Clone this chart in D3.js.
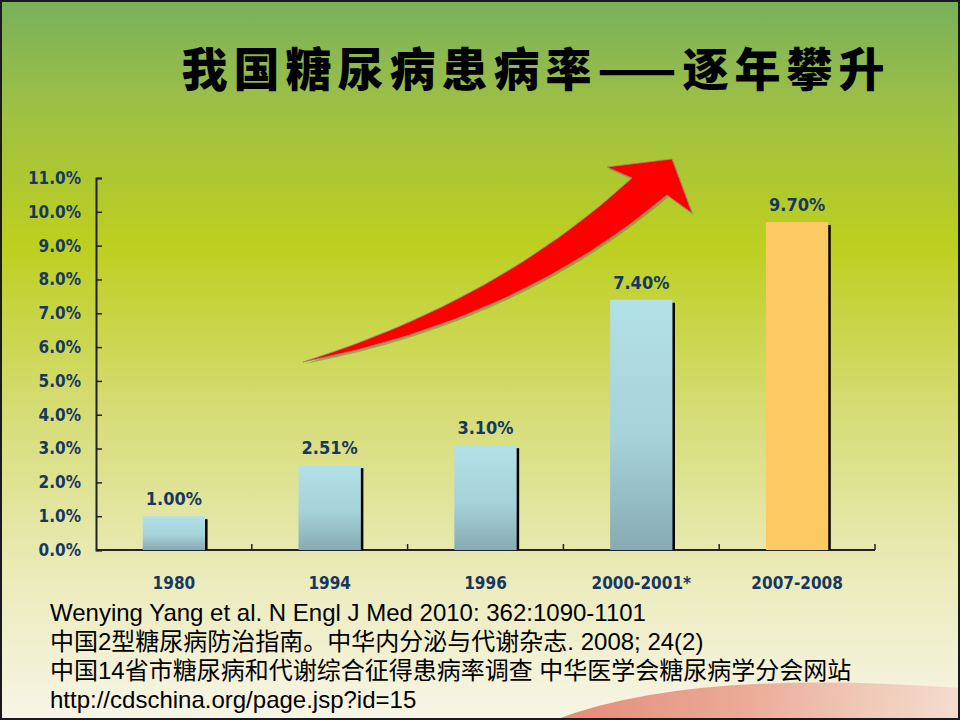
<!DOCTYPE html>
<html>
<head>
<meta charset="utf-8">
<script src="https://cdn.jsdelivr.net/npm/d3@7"></script>
<style>
  html, body { margin: 0; padding: 0; background: #fff; }
  svg { display: block; }
</style>
</head>
<body>
<svg id="chart"></svg>
<script>
const width = 960;
const height = 720;

// data
const categories = ["1980", "1994", "1996", "2000-2001*", "2007-2008"];
const prevalence = [0.0100, 0.0251, 0.0310, 0.0740, 0.0970];
const valueLabels = ["1.00%", "2.51%", "3.10%", "7.40%", "9.70%"];
const yTicks = [0, 0.01, 0.02, 0.03, 0.04, 0.05, 0.06, 0.07, 0.08, 0.09, 0.10, 0.11];
const titleText = "我国糖尿病患病率——逐年攀升";
const references = [
  "Wenying Yang et al. N Engl J Med 2010: 362:1090-1101",
  "中国2型糖尿病防治指南。中华内分泌与代谢杂志. 2008; 24(2)",
  "中国14省市糖尿病和代谢综合征得患病率调查 中华医学会糖尿病学分会网站",
  "http://cdschina.org/page.jsp?id=15"
];

const svg = d3.select("#chart")
  .attr("width", width)
  .attr("height", height);

const defs = svg.append("defs");

// slide background: green at top, yellow-green in middle, cream at bottom
const bg = defs.append("linearGradient")
  .attr("id", "bg").attr("x1", 0).attr("y1", 0).attr("x2", 0).attr("y2", 1);
bg.append("stop").attr("offset", "0%").attr("stop-color", "#77b05c");
bg.append("stop").attr("offset", "14%").attr("stop-color", "#9cbf46");
bg.append("stop").attr("offset", "34%").attr("stop-color", "#bdcf1f");
bg.append("stop").attr("offset", "58%").attr("stop-color", "#d6dd78");
bg.append("stop").attr("offset", "80%").attr("stop-color", "#ebebba");
bg.append("stop").attr("offset", "100%").attr("stop-color", "#f7f5e6");

const barGrad = defs.append("linearGradient")
  .attr("id", "barBlue").attr("x1", 0).attr("y1", 0).attr("x2", 0).attr("y2", 1);
barGrad.append("stop").attr("offset", "0%").attr("stop-color", "#b3e1e8");
barGrad.append("stop").attr("offset", "55%").attr("stop-color", "#a6d2d9");
barGrad.append("stop").attr("offset", "100%").attr("stop-color", "#87aab3");

const swoosh = defs.append("linearGradient")
  .attr("id", "swoosh").attr("x1", 0).attr("y1", 0).attr("x2", 1).attr("y2", 0);
swoosh.append("stop").attr("offset", "0%").attr("stop-color", "#e27e6c").attr("stop-opacity", 0.9);
swoosh.append("stop").attr("offset", "45%").attr("stop-color", "#e89c88").attr("stop-opacity", 0.85);
swoosh.append("stop").attr("offset", "100%").attr("stop-color", "#f3d2c4").attr("stop-opacity", 0.7);

svg.append("rect")
  .attr("width", width).attr("height", height)
  .attr("fill", "url(#bg)");

// pink swoosh in the lower right corner
svg.append("path")
  .attr("d", "M555,720 Q690,668 960,688 L960,720 Z")
  .attr("fill", "url(#swoosh)");

// title
svg.append("text")
  .attr("x", 536)
  .attr("y", 86)
  .attr("text-anchor", "middle")
  .attr("font-family", "'Noto Sans CJK SC', sans-serif")
  .attr("font-weight", 900)
  .attr("font-size", 46)
  .attr("letter-spacing", 6)
  .attr("fill", "#000")
  .text(titleText);

// scales
const margin = { left: 96, right: 85, top: 178, bottom: 170 };
const x = d3.scaleBand()
  .domain(categories)
  .range([margin.left, width - margin.right])
  .paddingInner(0.6)
  .paddingOuter(0.3);

const y = d3.scaleLinear()
  .domain([0, 0.11])
  .range([height - margin.bottom, margin.top]);

const step = x.step();
const x0 = margin.left;

const navy = "#17375e";
const labelFont = "'DejaVu Sans Condensed', 'DejaVu Sans', sans-serif";

// y axis
const yAxis = svg.append("g")
  .attr("transform", `translate(${x0},0)`)
  .call(d3.axisLeft(y).tickValues(yTicks).tickFormat(d3.format(".1%")).tickSize(-6).tickPadding(15));
yAxis.select(".domain").attr("stroke", "#222").attr("stroke-width", 2);
yAxis.selectAll(".tick line").attr("stroke", "#222").attr("stroke-width", 1.5);
yAxis.selectAll(".tick text")
  .attr("fill", navy)
  .attr("font-family", labelFont)
  .attr("font-stretch", "condensed")
  .attr("font-weight", "bold")
  .attr("font-size", 17);

// x axis line and boundary ticks between categories
const baseY = y(0);
svg.append("line")
  .attr("x1", x0).attr("x2", x0 + step * categories.length)
  .attr("y1", baseY).attr("y2", baseY)
  .attr("stroke", "#222").attr("stroke-width", 2);
svg.append("g").selectAll("line")
  .data(d3.range(1, categories.length + 1))
  .join("line")
  .attr("x1", i => x0 + step * i).attr("x2", i => x0 + step * i)
  .attr("y1", baseY).attr("y2", baseY - 6)
  .attr("stroke", "#222").attr("stroke-width", 1.5);

// category labels
svg.append("g").selectAll("text")
  .data(categories)
  .join("text")
  .attr("x", d => x(d) + x.bandwidth() / 2)
  .attr("y", baseY + 39)
  .attr("text-anchor", "middle")
  .attr("fill", navy)
  .attr("font-family", labelFont)
  .attr("font-stretch", "condensed")
  .attr("font-weight", "bold")
  .attr("font-size", 17)
  .text(d => d);

const bars = categories.map((c, i) => ({ c, v: prevalence[i], label: valueLabels[i], last: i === categories.length - 1 }));

// black drop shadow on the right side of each bar
svg.append("g").selectAll("rect")
  .data(bars)
  .join("rect")
  .attr("x", d => x(d.c) + 2.5)
  .attr("y", d => y(d.v) + 3)
  .attr("width", x.bandwidth())
  .attr("height", d => baseY - y(d.v) - 3)
  .attr("fill", "#000");

svg.append("g").selectAll("rect")
  .data(bars)
  .join("rect")
  .attr("x", d => x(d.c))
  .attr("y", d => y(d.v))
  .attr("width", x.bandwidth())
  .attr("height", d => baseY - y(d.v))
  .attr("fill", d => d.last ? "#fdc963" : "url(#barBlue)");

// value labels
svg.append("g").selectAll("text")
  .data(bars)
  .join("text")
  .attr("x", d => x(d.c) + x.bandwidth() / 2)
  .attr("y", d => y(d.v) - 11)
  .attr("text-anchor", "middle")
  .attr("fill", navy)
  .attr("font-family", labelFont)
  .attr("font-stretch", "condensed")
  .attr("font-weight", "bold")
  .attr("font-size", 18)
  .text(d => d.label);

// red rising arrow
const arrow = d3.path();
arrow.moveTo(303, 362);
arrow.quadraticCurveTo(520, 320, 667, 195);
arrow.lineTo(692, 213);
arrow.lineTo(672, 159);
arrow.lineTo(607, 167);
arrow.lineTo(632, 178);
arrow.quadraticCurveTo(500, 300, 303, 362);
arrow.closePath();
svg.append("path")
  .attr("d", arrow.toString())
  .attr("transform", "translate(1.5,2)")
  .attr("fill", "#7f7f5a")
  .attr("opacity", 0.6);
svg.append("path")
  .attr("d", arrow.toString())
  .attr("fill", "#ff0000")
  .attr("stroke", "#9a8a70")
  .attr("stroke-width", 0.8);

// references
svg.append("g").selectAll("text")
  .data(references)
  .join("text")
  .attr("x", 50)
  .attr("y", (d, i) => 621 + i * 29)
  .attr("fill", "#000")
  .attr("font-family", "'Liberation Sans', 'Noto Sans CJK SC', sans-serif")
  .attr("font-size", 24)
  .text(d => d);

// slide frame
svg.append("rect")
  .attr("x", 1).attr("y", 1)
  .attr("width", width - 2).attr("height", height - 2)
  .attr("fill", "none")
  .attr("stroke", "#1a1a1a")
  .attr("stroke-width", 2);
</script>
</body>
</html>
